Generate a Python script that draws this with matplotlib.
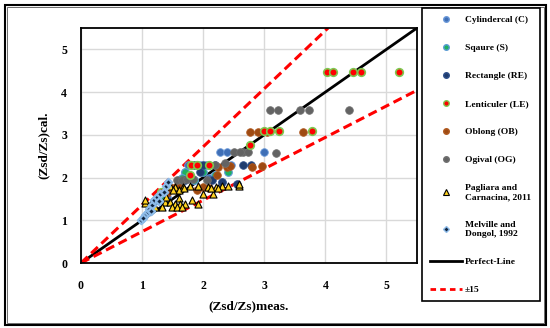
import matplotlib
matplotlib.use('Agg')
import matplotlib.pyplot as plt
from matplotlib.lines import Line2D
from matplotlib.patches import Rectangle

plt.rcParams['font.family'] = ['Liberation Serif', 'DejaVu Serif']
plt.rcParams['font.weight'] = 'bold'

# ---- data (meas, cal) ----
cyl_x = [2.27, 2.39, 3.00, 1.75, 1.95, 2.05, 2.45, 1.60, 1.85, 2.10, 1.40, 1.30, 1.22, 2.30, 1.70]
cyl_y = [2.59, 2.59, 2.59, 2.29, 2.29, 2.29, 2.29, 1.95, 1.95, 2.00, 1.55, 1.45, 1.50, 1.90, 2.12]

sq_x = [1.71, 1.99, 2.40, 1.85, 1.30, 1.20, 1.65, 2.20]
sq_y = [2.12, 2.12, 2.12, 1.95, 1.55, 1.45, 2.00, 2.05]

rec_x = [2.65, 2.79, 1.85, 2.00, 2.20, 1.70, 2.30, 2.15, 2.55, 1.95]
rec_y = [2.29, 2.29, 2.29, 2.29, 2.29, 1.95, 1.90, 1.95, 1.85, 2.12]

len_x = [4.03, 4.13, 4.46, 4.59, 5.20, 3.00, 3.09, 3.24, 3.78, 2.77, 1.80, 1.90, 2.10, 1.78, 1.31]
len_y = [4.48, 4.48, 4.48, 4.48, 4.48, 3.08, 3.08, 3.08, 3.08, 2.77, 2.29, 2.29, 2.29, 2.07, 1.66]

obl_x = [2.77, 2.90, 3.05, 3.63, 2.80, 2.25, 2.39, 2.96, 2.23, 2.44, 1.45, 1.55, 1.62, 2.00, 2.10, 1.40, 1.25, 1.90]
obl_y = [3.06, 3.06, 3.06, 3.06, 2.25, 2.24, 2.24, 2.28, 2.07, 2.26, 1.77, 1.77, 1.77, 1.79, 1.75, 1.65, 1.55, 1.70]

ogi_x = [3.10, 3.22, 3.58, 3.73, 4.38, 2.65, 2.73, 3.19, 2.51, 2.60, 2.36, 1.57, 1.65, 1.74, 1.84, 2.07, 2.20]
ogi_y = [3.59, 3.59, 3.59, 3.59, 3.59, 2.59, 2.59, 2.58, 2.59, 2.59, 2.33, 1.95, 1.95, 1.97, 1.97, 1.95, 2.30]

pag_x = [1.46, 1.79, 1.91, 2.31, 2.40, 2.59, 1.54, 1.67, 2.08, 2.21, 1.60, 1.50, 1.99, 2.16, 2.13, 2.24,
         1.81, 1.60, 1.38, 1.46, 1.54, 1.62, 1.70, 1.91, 1.13, 1.21, 1.32, 1.49, 1.57, 1.65, 1.05, 1.39,
         1.68, 2.58, 1.05]
pag_y = [1.81, 1.81, 1.81, 1.81, 1.81, 1.81, 1.77, 1.77, 1.77, 1.77, 1.70, 1.70, 1.62, 1.62, 1.75, 1.75,
         1.48, 1.53, 1.43, 1.43, 1.39, 1.39, 1.39, 1.39, 1.35, 1.31, 1.31, 1.31, 1.31, 1.31, 1.40, 1.55,
         1.75, 1.86, 1.47]

mel_x = [0.99, 1.05, 1.09, 1.12, 1.16, 1.20, 1.24, 1.30, 1.36, 1.39, 1.43, 1.02, 1.14, 1.28]
mel_y = [1.00, 1.12, 1.19, 1.27, 1.35, 1.47, 1.54, 1.62, 1.66, 1.81, 1.89, 1.05, 1.22, 1.45]

lim = 5.5
up_slope, lo_slope = 1.36, 0.735

fig = plt.figure(figsize=(5.5, 3.28), dpi=100)
ax = fig.add_axes([81/550, 65/328, 336/550, 235/328])

ms = 30
ax.scatter(cyl_x, cyl_y, s=ms, c='#3f6fb6', edgecolors='#6a98d8', linewidths=0.6, zorder=3)
ax.scatter(sq_x, sq_y, s=ms, c='#1fb060', edgecolors='#5b9bd5', linewidths=0.8, zorder=3)
ax.scatter(rec_x, rec_y, s=ms, c='#1f3c6e', edgecolors='#2e4f8a', linewidths=0.6, zorder=3)
ax.scatter(obl_x, obl_y, s=ms, c='#9e4a12', edgecolors='#b05a20', linewidths=0.6, zorder=3)
ax.scatter(ogi_x, ogi_y, s=ms, c='#636363', edgecolors='#707070', linewidths=0.6, zorder=3)
ax.scatter(len_x, len_y, s=ms, c='#ff0000', edgecolors='#7ec850', linewidths=1.2, zorder=4)
ax.scatter(pag_x, pag_y, s=26, marker='^', c='#ffd21f', edgecolors='black', linewidths=0.8, zorder=5)
ax.scatter(mel_x, mel_y, s=14, marker='D', c='#10243f', edgecolors='#8dbbe8', linewidths=1.6, zorder=6)

ax.plot([0, lim], [0, lim], color='black', lw=2, zorder=2)
ax.plot([0, lim / up_slope], [0, lim], color='red', lw=2.2, ls=(0, (3, 1.6)), zorder=2)
ax.plot([0, lim], [0, lim * lo_slope], color='red', lw=2.2, ls=(0, (3, 1.6)), zorder=2)

ax.set_xlim(0, lim)
ax.set_ylim(0, lim)
ax.set_xticks([0, 1, 2, 3, 4, 5])
ax.set_yticks([0, 1, 2, 3, 4, 5])
ax.grid(True, color='#d9d9d9', lw=1)
ax.set_axisbelow(True)
ax.tick_params(length=0, labelsize=8.5)
ax.tick_params(axis='x', pad=12)
ax.tick_params(axis='y', pad=10)
for s in ax.spines.values():
    s.set_linewidth(1.3)
ax.set_xlabel('(Zsd/Zs)meas.', fontsize=9.5, fontweight='bold', labelpad=6)
ax.set_ylabel('(Zsd/Zs)cal.', fontsize=9.5, fontweight='bold', labelpad=8)

handles = [
    Line2D([], [], ls='', marker='o', ms=4, mfc='#3f6fb6', mec='#6a98d8'),
    Line2D([], [], ls='', marker='o', ms=4, mfc='#1fb060', mec='#5b9bd5'),
    Line2D([], [], ls='', marker='o', ms=4, mfc='#1f3c6e', mec='#2e4f8a'),
    Line2D([], [], ls='', marker='o', ms=4, mfc='#ff0000', mec='#7ec850', mew=1),
    Line2D([], [], ls='', marker='o', ms=4, mfc='#9e4a12', mec='#b05a20'),
    Line2D([], [], ls='', marker='o', ms=4, mfc='#636363', mec='#707070'),
    Line2D([], [], ls='', marker='^', ms=4.5, mfc='#ffd21f', mec='black', mew=0.8),
    Line2D([], [], ls='', marker='D', ms=3, mfc='#10243f', mec='#8dbbe8', mew=1),
    Line2D([], [], color='black', lw=2),
    Line2D([], [], color='red', lw=2, ls=(0, (2, 1.5))),
]
labels = ['Cylindercal (C)', 'Sqaure (S)', 'Rectangle (RE)', 'Lenticuler (LE)', 'Oblong (OB)',
          'Ogival (OG)', 'Pagliara and\nCarnacina, 2011', 'Melville and\nDongol, 1992',
          'Perfect-Line', '±15']
leg = fig.legend(handles, labels, loc='upper left',
                 bbox_to_anchor=(422/550, 1 - 8/328, 118/550, 0), mode='expand', borderaxespad=0,
                 prop={'family': 'Liberation Serif', 'weight': 'bold', 'size': 6.8},
                 labelspacing=2.06, handlelength=3.4, handletextpad=0.35, borderpad=0.8,
                 fancybox=False, edgecolor='black', framealpha=1)
leg.get_frame().set_linewidth(1.2)

fig.patches.append(Rectangle((5/550, 3/328), 541/550, 320/328, transform=fig.transFigure,
                             fill=False, ec='black', lw=1.5))
fig.patches.append(Rectangle((7/550, 5/328), 537/550, 316/328, transform=fig.transFigure,
                             fill=False, ec='#555555', lw=0.6))

fig.savefig('out.png', dpi=100)
